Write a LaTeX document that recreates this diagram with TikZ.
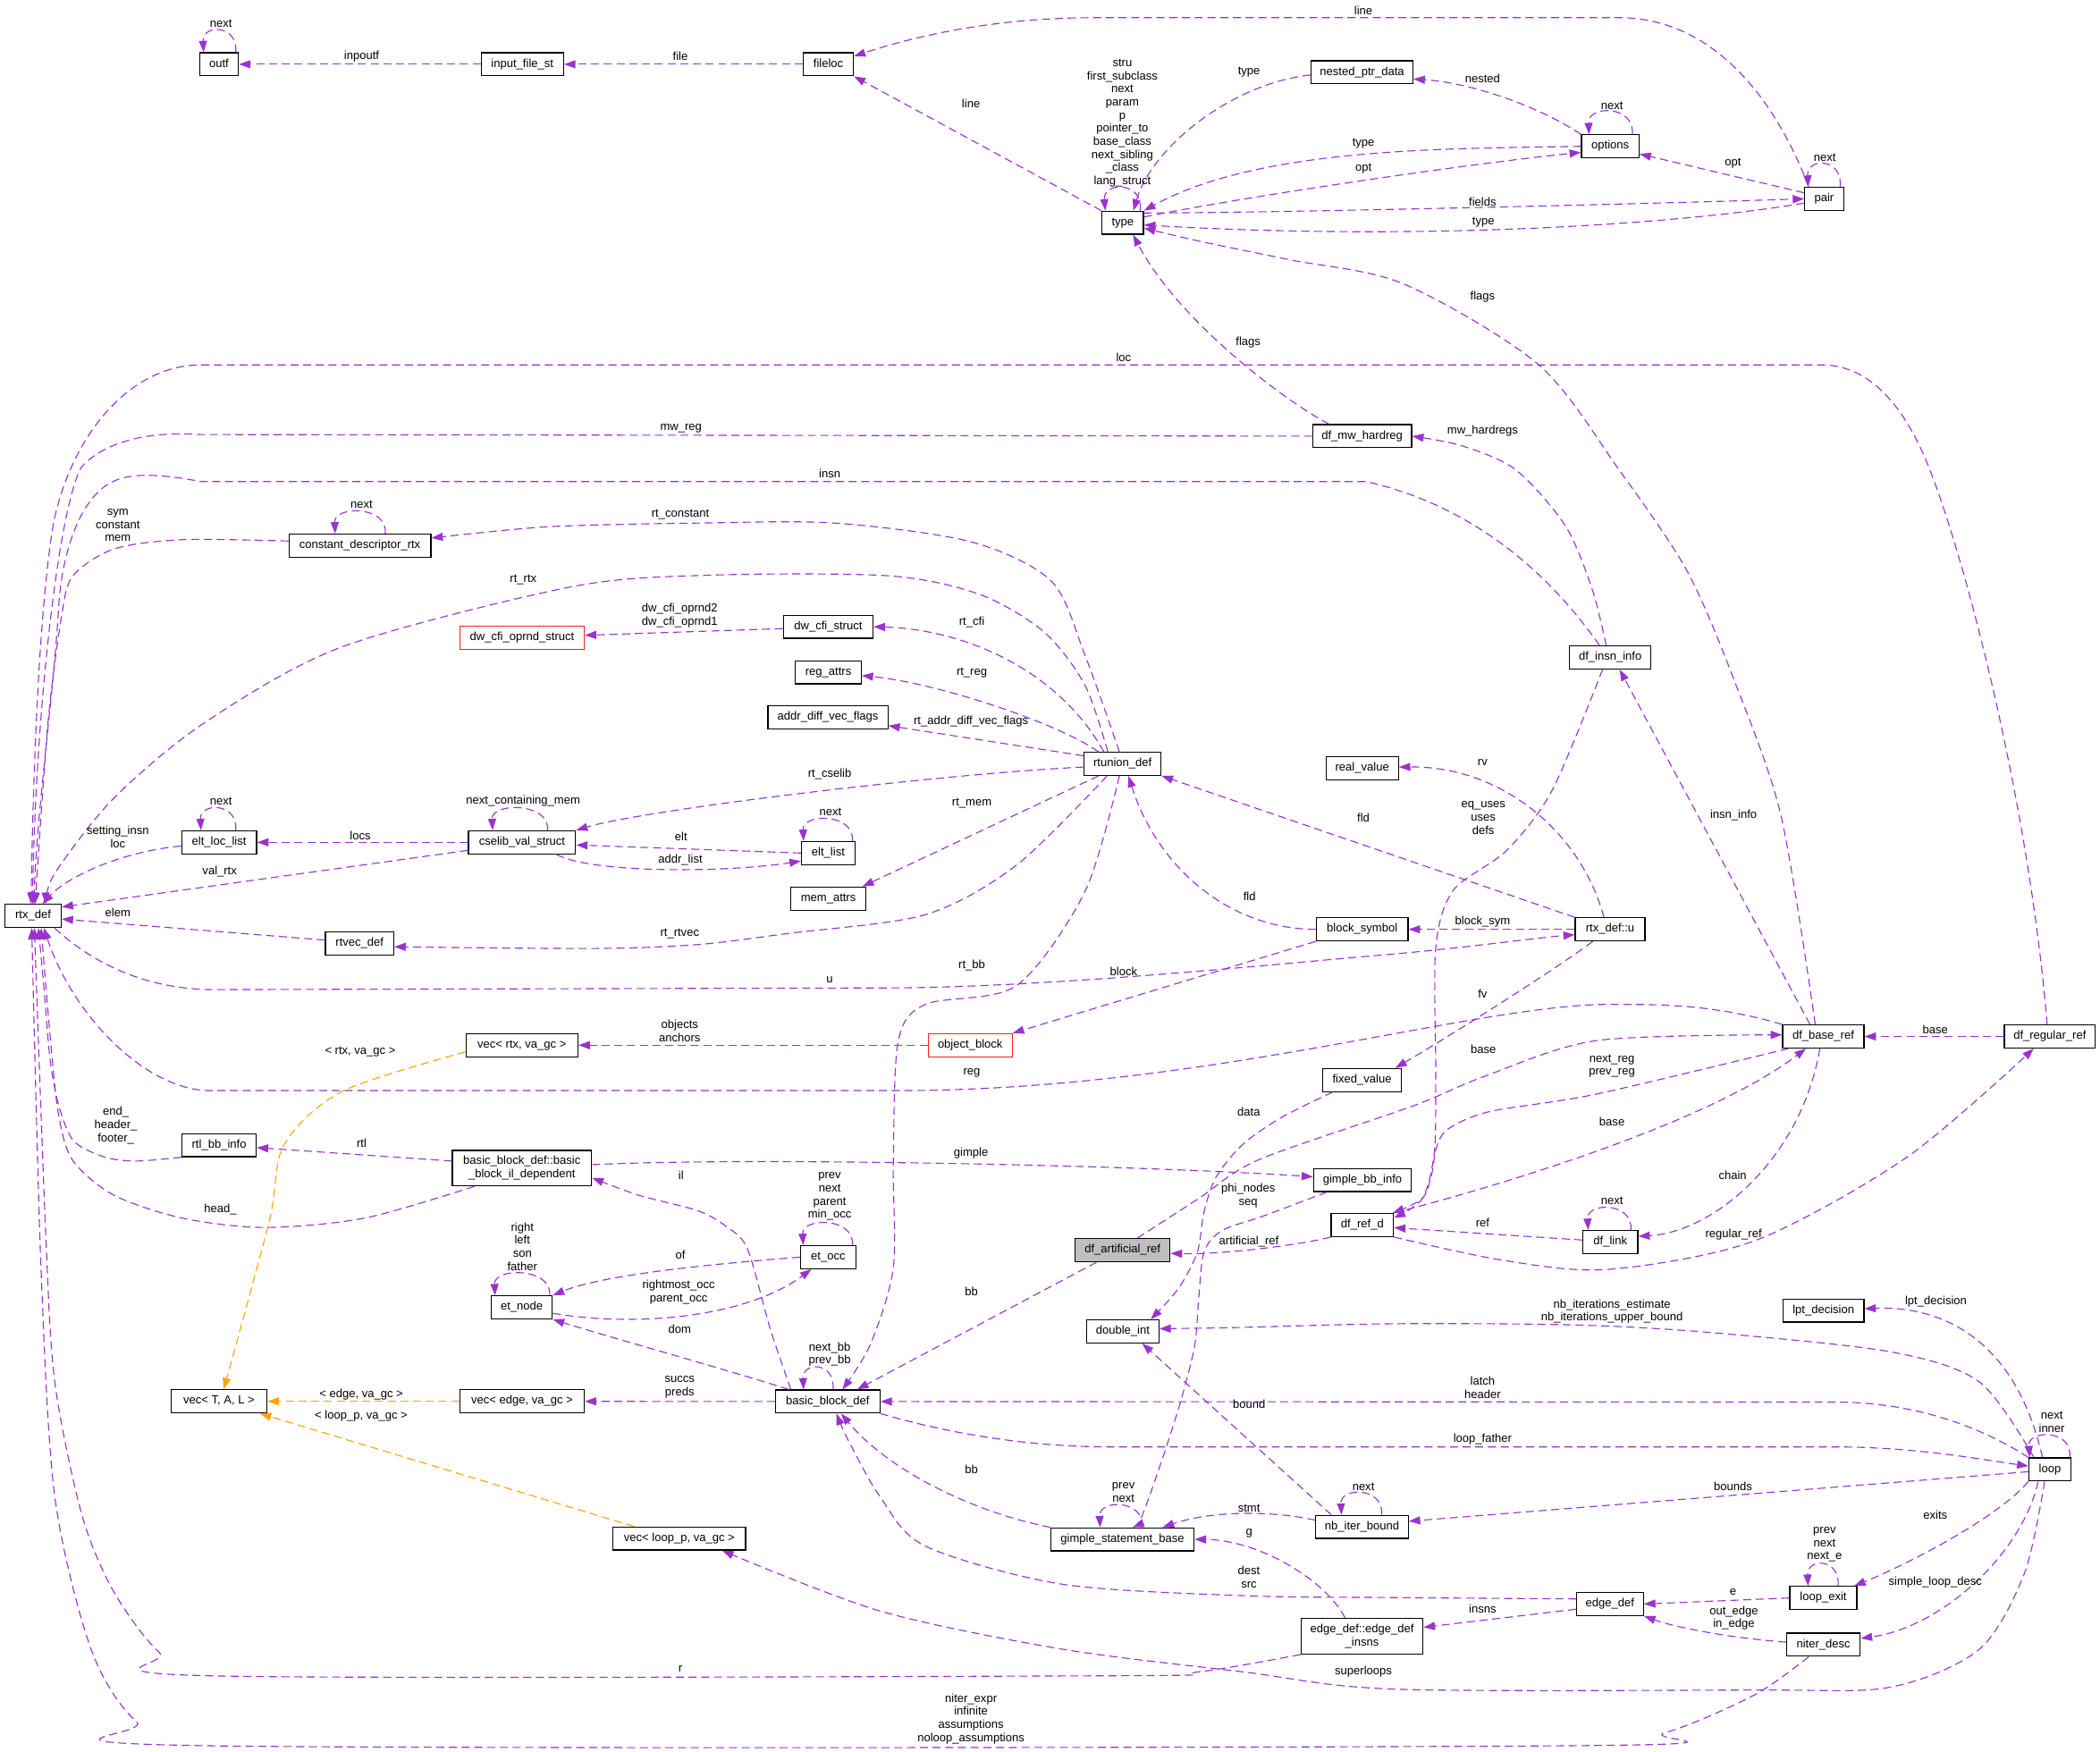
\documentclass[tikz,border=0pt]{standalone}
\usepackage{fontspec}
\setmainfont{Liberation Sans}
\usetikzlibrary{arrows.meta}
\definecolor{dxPurple}{RGB}{154,50,205}
\definecolor{dxOrange}{RGB}{255,165,0}
\definecolor{dxRed}{RGB}{255,30,30}
\definecolor{dxGrey}{RGB}{191,191,191}
\newcommand\dxfont{\fontsize{8.7pt}{9.8pt}\selectfont}

\begin{document}
\begin{tikzpicture}[
  x=1pt, y=-1pt,
  clsbox/.style={draw=black, line width=0.8pt, fill=white, font=\dxfont,
    inner xsep=1pt, inner ysep=0pt, minimum height=17.2pt, minimum width=#1},
  cls/.style={clsbox=#1, text height=6.3pt, text depth=2pt},
  cls2/.style={clsbox=#1, align=center, minimum height=26.5pt},
  lab/.style={font=\dxfont, inner sep=0pt, align=center},
  rel/.style={draw=dxPurple, line width=0.75pt, dash pattern=on 6pt off 3.5pt,
    -{Triangle[length=8.5pt, width=6pt]}},
  tmpl/.style={rel, draw=dxOrange},
]
\fill[white] (0,0) rectangle (1568,1308);
\useasboundingbox (0,0) rectangle (1568,1308);

% --- classes --------------------------------------------------------------
\node[cls=42pt]   (rtxdef)     at (24.7,684)     {rtx\_def};
\node[cls=29pt]   (outf)       at (163.5,48)     {outf};
\node[cls=61.6pt] (inputfile)  at (390,48)       {input\_file\_st};
\node[cls=37.5pt] (fileloc)    at (618.5,48)     {fileloc};
\node[cls=76pt]   (nestedptr)  at (1017,54)      {nested\_ptr\_data};
\node[cls=43pt]   (options)    at (1202.3,109.3) {options};
\node[cls=29pt]   (pair)       at (1362,148.5)   {pair};
\node[cls=31pt]   (type)       at (838.3,166.3)  {type};
\node[cls=74pt]   (mwhardreg)  at (1017,325.7)   {df\_mw\_hardreg};
\node[cls=106pt]  (constdesc)  at (268.7,407.4)  {constant\_descriptor\_rtx};
\node[cls=93pt, draw=dxRed] (cfioprnd) at (389.8,476.2) {dw\_cfi\_oprnd\_struct};
\node[cls=67pt]   (cfistruct)  at (618.4,468)    {dw\_cfi\_struct};
\node[cls=49pt]   (regattrs)   at (618.5,502)    {reg\_attrs};
\node[cls=89.5pt] (addrdiff)   at (618.2,535.5)  {addr\_diff\_vec\_flags};
\node[cls=61pt]   (insninfo)   at (1202.3,491)   {df\_insn\_info};
\node[cls=57.5pt] (rtunion)    at (838.2,570.4)  {rtunion\_def};
\node[cls=54pt]   (realvalue)  at (1017.1,573.8) {real\_value};
\node[cls=56pt]   (eltloclist) at (163.6,629)    {elt\_loc\_list};
\node[cls=80pt]   (cselib)     at (389.8,629)    {cselib\_val\_struct};
\node[cls=40pt]   (eltlist)    at (618.4,637)    {elt\_list};
\node[cls=56pt]   (memattrs)   at (618.5,671)    {mem\_attrs};
\node[cls=51pt]   (rtvec)      at (268.5,704.7)  {rtvec\_def};
\node[cls=68.5pt] (blocksym)   at (1017.1,694)   {block\_symbol};
\node[cls=52pt]   (rtxu)       at (1202.2,694)   {rtx\_def::u};
\node[cls=83.7pt] (vecrtx)     at (389.7,780.5)  {vec< rtx, va\_gc >};
\node[cls=62.7pt, draw=dxRed] (objblock) at (724.4,780.5) {object\_block};
\node[cls=60.7pt] (baseref)    at (1361.4,774)   {df\_base\_ref};
\node[cls=68pt]   (regularref) at (1530.5,774)   {df\_regular\_ref};
\node[cls=59pt]   (fixedvalue) at (1017,806.5)   {fixed\_value};
\node[cls=55.5pt] (rtlbb)      at (163.6,855.2)  {rtl\_bb\_info};
\node[cls2=104pt] (ildep)      at (389.7,872.3)  {basic\_block\_def::basic\\\_block\_il\_dependent};
\node[cls=73pt]   (gimplebb)   at (1017.3,881.2) {gimple\_bb\_info};
\node[cls=46.5pt] (refd)       at (1017.2,914.8) {df\_ref\_d};
\node[cls=41pt]   (dflink)     at (1202.4,927.5) {df\_link};
\node[cls=71pt, fill=dxGrey] (artref) at (838.2,933.6) {df\_artificial\_ref};
\node[cls=41.5pt] (etocc)      at (618.4,938.8)  {et\_occ};
\node[cls=45.6pt] (etnode)     at (389.6,976.3)  {et\_node};
\node[cls=54pt]   (doubleint)  at (838.3,994.2)  {double\_int};
\node[cls=60.4pt] (lptdec)     at (1361.5,978.7) {lpt\_decision};
\node[cls=71.6pt] (vecT)       at (163.5,1046.5) {vec< T, A, L >};
\node[cls=93pt]   (vecedge)    at (389.8,1046.5) {vec< edge, va\_gc >};
\node[cls=78pt]   (bbdef)      at (618,1046.6)   {basic\_block\_def};
\node[cls=31.3pt] (loop)       at (1530.6,1097.3) {loop};
\node[cls=69pt]   (nbiter)     at (1017,1140.2)  {nb\_iter\_bound};
\node[cls=107pt]  (gimplestmt) at (838.1,1149.5) {gimple\_statement\_base};
\node[cls=99pt]   (vecloop)    at (507.2,1148.9) {vec< loop\_p, va\_gc >};
\node[cls=50pt]   (loopexit)   at (1361.4,1193.3) {loop\_exit};
\node[cls=50pt]   (edgedef)    at (1202.1,1197.8) {edge\_def};
\node[cls2=91pt]  (edgeinsns)  at (1017,1221.9)  {edge\_def::edge\_def\\\_insns};
\node[cls=55pt]   (niterdesc)  at (1361.5,1228.2) {niter\_desc};

% --- top row: files, types, options ---------------------------------------
\draw[rel] ([xshift=12.5pt]outf.north) .. controls +(2,-21) and +(-1,-21) .. ([xshift=-11.5pt]outf.north);
\draw[rel] (inputfile.west) -- (outf.east);
\draw[rel] (fileloc.west) -- (inputfile.east);
\draw[rel] ([xshift=-11.5pt]pair.north) .. controls (1320,60) and (1270,13.2) .. (1209,13.2) -- (817,13.2) .. controls (740,13.2) and (680,28) .. ([yshift=6pt]fileloc.east);
\draw[rel] (type.north west) -- (fileloc.south east);
\draw[rel] ([xshift=13pt]type.north) .. controls +(3,-22) and +(-2,-22) .. ([xshift=-13pt]type.north);
\draw[rel] ([yshift=-2pt]nestedptr.west) .. controls (920,62) and (860,110) .. ([xshift=8pt]type.north);
\draw[rel] (options.north west) .. controls (1150,80) and (1100,62) .. ([yshift=-5pt]nestedptr.east);
\draw[rel] ([xshift=16.5pt]options.north) .. controls +(2,-22) and +(-1,-22) .. ([xshift=-15.8pt]options.north);
\draw[rel] (options.west) .. controls (1080,111) and (940,110) .. (type.north east);
\draw[rel] ([yshift=4.3pt]type.east) .. controls (940,145) and (1100,122) .. ([yshift=-4.5pt]options.west);
\draw[rel] ([yshift=4.5pt]pair.west) -- ([yshift=-5.7pt]options.east);
\draw[rel] ([xshift=12pt]pair.north) .. controls +(2,-22) and +(-1,-22) .. ([xshift=-12pt]pair.north);
\draw[rel] ([yshift=7.3pt]type.east) .. controls (950,159) and (1200,153) .. (pair.west);
\draw[rel] ([yshift=-3.2pt]pair.west) .. controls (1250,168) and (1060,180) .. ([yshift=-1.7pt]type.east);
\draw[rel] plot[smooth] coordinates {([xshift=-6pt]baseref.north) (1330,610) (1296,511) (1260,427) (1209,351) (1149,272.5) (1048,212) (963,194) (895,180) ([yshift=-4pt]type.east)};
\draw[rel] ([xshift=-24.6pt]mwhardreg.north) .. controls (960,300) and (880,240) .. ([xshift=7.7pt]type.south);

% --- long edges into rtx_def from above ------------------------------------
\draw[rel] ([xshift=-2pt]regularref.north) .. controls (1515,600) and (1468,420) .. (1441,351)
  .. controls (1425,310) and (1400,272.5) .. (1360,272.5) -- (150,272.5)
  .. controls (100,272.5) and (55,320) .. (40,390) .. controls (30,450) and (25,560) .. ([xshift=-1.5pt]rtxdef.north);
\draw[rel] (mwhardreg.west) -- (150,324.5) .. controls (115,322) and (80,328) .. (61,348.5)
  .. controls (45,375) and (27,520) .. ([xshift=-0.5pt]rtxdef.north);
\draw[rel] ([xshift=-8pt]insninfo.north) .. controls (1165,440) and (1110,380) .. (1020,359.6) -- (150,359.6)
  .. controls (120,354) and (95,352) .. (80,362) .. controls (60,375) and (47,410) .. (44,450)
  .. controls (40,520) and (28,600) .. ([xshift=0.5pt]rtxdef.north);
\draw[rel] plot[smooth] coordinates {([xshift=-3pt]insninfo.north) (1189,440.6) (1169,393) (1132,351) (1092,333) (mwhardreg.east)};
\draw[rel] ([xshift=19pt]constdesc.north) .. controls +(2,-21) and +(-1,-21) .. ([xshift=-18.4pt]constdesc.north);
\draw[rel] plot[smooth] coordinates {([yshift=3.4pt]constdesc.west) (136,403) (85,410) (54.5,430) (46,460) (35.8,540) ([xshift=1.5pt]rtxdef.north)};

% --- rtunion_def -----------------------------------------------------------
\draw[rel] plot[smooth] coordinates {([xshift=-2.4pt]rtunion.north) (810,489) (785,434) (725,404.6) (623,390.6) (520.7,390.6) (408.6,393.4) ([yshift=5.6pt]constdesc.east)};
\draw[rel] plot[smooth] coordinates {([xshift=-11pt]rtunion.north) (810,511.5) (779.6,472) (731.8,444) (663.8,430) (531,429.5) (426,438.3) (255.5,483) (153,539.5) (85,596) (41,652) ([xshift=9.5pt]rtxdef.north)};
\draw[rel] ([yshift=-1.4pt]cfistruct.west) -- ([yshift=1.8pt]cfioprnd.east);
\draw[rel] ([xshift=-14pt]rtunion.north) .. controls (790,500) and (720,470) .. (cfistruct.east);
\draw[rel] ([xshift=-18pt]rtunion.north) .. controls (790,540) and (700,510) .. ([yshift=-2.5pt]regattrs.east);
\draw[rel] ([yshift=6pt]rtunion.west) -- ([yshift=-6.4pt]addrdiff.east);
\draw[rel] ([yshift=-2.4pt]rtunion.west) .. controls (700,578) and (480,605) .. (cselib.north east);
\draw[rel] ([xshift=-18pt]rtunion.south) -- ([xshift=-3pt]memattrs.north east);
\draw[rel] plot[smooth] coordinates {([xshift=-11.6pt]rtunion.south) (759,646) (691,683) (588.8,697) (520.7,705.4) (442.8,708.3) ([yshift=-2.3pt]rtvec.east)};
\draw[rel] plot[smooth] coordinates {([xshift=-2.4pt]rtunion.south) (810,666) (759,736) (691,750) (670.6,778) (667,868) (667,946.6) (650,1003.6) ([xshift=11pt]bbdef.north)};

% --- cselib / elt lists ----------------------------------------------------
\draw[rel] ([xshift=19pt]cselib.north) .. controls +(2,-21) and +(-1,-21) .. ([xshift=-22pt]cselib.north);
\draw[rel] (cselib.west) -- (eltloclist.east);
\draw[rel] (eltlist.west) -- ([yshift=-2pt]cselib.east);
\draw[rel] ([xshift=25.7pt]cselib.south) .. controls (440,652) and (540,652) .. ([yshift=-6pt]eltlist.west);
\draw[rel] ([xshift=18pt]eltlist.north) .. controls +(2,-21) and +(-1,-21) .. ([xshift=-18.4pt]eltlist.north);
\draw[rel] ([xshift=12.4pt]eltloclist.north) .. controls +(2,-21) and +(-1,-21) .. ([xshift=-13.6pt]eltloclist.north);
\draw[rel] ([yshift=-2.8pt]eltloclist.west) .. controls (90,636) and (50,655) .. ([xshift=7pt]rtxdef.north);
\draw[rel] ([yshift=-6pt]cselib.west) -- ([yshift=6.7pt]rtxdef.east);
\draw[rel] ([yshift=2.7pt]rtvec.west) -- ([yshift=-2.3pt]rtxdef.east);

% --- rtx_def::u, symbols, blocks ---------------------------------------------
\draw[rel] ([xshift=16pt]rtxdef.south) .. controls (70,720) and (110,739) .. (160,739) -- (674,737.7)
  .. controls (800,736) and (950,720) .. (1041,712.4) .. controls (1100,707) and (1150,700) .. ([yshift=-4pt]rtxu.west);
\draw[rel] (rtxu.west) -- (blocksym.east);
\draw[rel] ([xshift=-4.6pt]rtxu.north) .. controls (1180,620) and (1120,572) .. ([yshift=1pt]realvalue.east);
\draw[rel] (rtxu.north west) -- (rtunion.south east);
\draw[rel] (blocksym.west) .. controls (920,694) and (865,650) .. ([xshift=4.3pt]rtunion.south);
\draw[rel] (blocksym.south west) -- (objblock.north east);
\draw[rel] (objblock.west) -- (vecrtx.east);
\draw[tmpl] plot[smooth] coordinates {([yshift=-5pt]vecrtx.west) (255.5,815) (212,855) (201,912) ([xshift=3.5pt]vecT.north)};
\draw[rel] ([xshift=-13pt]rtxu.south) .. controls (1160,725) and (1080,775) .. ([xshift=-5pt]fixedvalue.north east);

% --- df refs ---------------------------------------------------------------
\draw[rel] (baseref.north west) .. controls (1280,750) and (1240,750) .. (1202.6,750)
  .. controls (1100,750) and (900,814.4) .. (670.6,814.4) -- (156.7,814.4)
  .. controls (110,814.4) and (55,760) .. ([xshift=8pt]rtxdef.south);
\draw[rel] (regularref.west) -- (baseref.east);
\draw[rel] ([xshift=-10pt]baseref.north) -- ([xshift=7pt]insninfo.south);
\draw[rel] plot[smooth] coordinates {([xshift=-5.7pt]insninfo.south) (1159,590) (1125,635) (1085,665) (1072,708) (1072,800) (1071,860) (1062,895) ([yshift=5.5pt]refd.east)};
\draw[rel] plot[smooth] coordinates {([xshift=11pt]artref.north) (895,895) (940,866) (1054.7,826) (1108.6,803.7) (1192.5,777) ([yshift=1.2pt]baseref.west)};
\draw[rel] plot[smooth] coordinates {([xshift=-26pt]baseref.south) (1192,817) (1112.6,830) (1081.4,843) (1072.5,857) (1069,876.7) (1062,895) ([xshift=-1pt]refd.north east)};
\draw[rel] (refd.north east) .. controls (1140,880) and (1280,835) .. ([xshift=-13pt]baseref.south);
\draw[rel] ([xshift=-2.6pt]baseref.south) .. controls (1345,865) and (1280,920) .. ([yshift=4.3pt]dflink.east);
\draw[rel] ([xshift=15.3pt]dflink.north) .. controls +(2,-21) and +(-1,-21) .. ([xshift=-16.6pt]dflink.north);
\draw[rel] ([yshift=1.5pt]dflink.west) -- ([yshift=-2pt]refd.east);
\draw[rel] plot[smooth] coordinates {(refd.south east) (1121.5,941) (1200,948) (1310,926.6) (1424,864) ([xshift=-12pt]regularref.south)};
\draw[rel] (refd.south west) .. controls (970,930) and (910,937) .. ([yshift=-2.4pt]artref.east);
\draw[rel] ([xshift=-19.5pt]artref.south) -- ([xshift=22pt]bbdef.north);

% --- basic blocks ------------------------------------------------------------
\draw[rel] ([yshift=2.6pt]ildep.east) .. controls (560,864) and (850,870) .. ([yshift=2.4pt]gimplebb.west);
\draw[rel] ([yshift=5.3pt]ildep.west) -- ([yshift=-1.8pt]rtlbb.east);
\draw[rel] plot[smooth] coordinates {([xshift=-35.5pt]ildep.south) (272.4,909.6) (197.5,916.6) (136,909.6) (85,892.5) (54.5,866.8) (44,834) (38,780) ([xshift=6pt]rtxdef.south)};
\draw[rel] plot[smooth] coordinates {(rtlbb.south west) (102,867) (78,864) (55,852) (44,826) (37.5,792) (33,740) ([xshift=4pt]rtxdef.south)};
\draw[rel] plot[smooth] coordinates {([xshift=-22pt]fixedvalue.south) (956.8,834.5) (928,854.5) (908,879) (899,905) (894,935) (880,962) ([xshift=21pt]doubleint.north)};
\draw[rel] plot[smooth] coordinates {([xshift=-26.5pt]gimplebb.south) (943.5,908) (912.3,919) (899,935) (895,970) (892,1005) (881.7,1046) (868,1089) (852.8,1131.8) ([xshift=7.7pt]gimplestmt.north)};
\draw[rel] ([xshift=20.8pt]etnode.north) .. controls +(2,-21) and +(-1,-21) .. ([xshift=-20pt]etnode.north);
\draw[rel] ([xshift=18pt]etocc.north) .. controls +(2,-21) and +(-1,-21) .. ([xshift=-18.7pt]etocc.north);
\draw[rel] (etocc.west) .. controls (530,944) and (450,952) .. (etnode.north east);
\draw[rel] ([yshift=-4.4pt]etnode.east) .. controls (480,992) and (560,982) .. ([xshift=-12.6pt]etocc.south);
\draw[rel] plot[smooth] coordinates {([xshift=-27.5pt]bbdef.north) (575,992) (558,932.4) (541,915) (520.7,904) (476.8,892.5) ([yshift=-7.3pt]ildep.east)};
\draw[rel] ([xshift=-29pt]bbdef.north) .. controls (540,1022) and (460,1000) .. (etnode.south east);
\draw[rel] ([xshift=4pt]bbdef.north) .. controls +(2,-21) and +(-1,-21) .. ([xshift=-18pt]bbdef.north);
\draw[tmpl] (vecedge.west) -- (vecT.east);
\draw[rel] (bbdef.west) -- (vecedge.east);
\draw[tmpl] ([xshift=-33.8pt]vecloop.north) -- ([xshift=30.5pt]vecT.south);

% --- bottom: loops, edges, statements ----------------------------------------
\draw[rel] plot[smooth] coordinates {([xshift=-4pt]loop.south) (1511.7,1174.5) (1478,1231.5) (1411,1260) (1310,1262) (1041.4,1261.4) (929,1248.6) (793,1231.5) (657,1203) ([xshift=32pt]vecloop.south)};
\draw[rel] plot[smooth] coordinates {(edgeinsns.south west) (895,1248.5) (827,1251.4) (156.7,1251.4) (119,1234) (85,1188.7) (61.3,1131.8) (40.9,1032) (34,918) ([xshift=1pt]rtxdef.south)};
\draw[rel] plot[smooth] coordinates {([xshift=-11pt]niterdesc.south) (1310,1265.7) (1243,1294) (1175.6,1303.6) (153.3,1303.6) (102,1285.6) (68,1231.5) (40.9,1117.5) (30.6,946.6) ([xshift=-1pt]rtxdef.south)};
\draw[rel] plot[smooth] coordinates {([xshift=-12pt]loop.north) (1478,1032) (1411,1009.4) (1276.4,995) (1175.6,989.4) (1041.4,988.5) (921.2,991.4) ([yshift=2pt]doubleint.east)};
\draw[rel] ([xshift=-5.6pt]loop.north) .. controls (1505,1000) and (1450,975) .. ([yshift=1.4pt]lptdec.east);
\draw[rel] (loop.north west) .. controls (1470,1060) and (1420,1047) .. (1370,1047) -- (bbdef.east);
\draw[rel] (bbdef.south east) .. controls (700,1068) and (760,1080.5) .. (830,1080.5) -- (1370,1080.5) .. controls (1430,1080.5) and (1480,1090) .. ([yshift=2.5pt]loop.west);
\draw[rel] ([xshift=14.7pt]loop.north) .. controls +(3,-21) and +(-2,-21) .. ([xshift=-15pt]loop.north);
\draw[rel] ([yshift=-1.7pt]loop.west) -- ([yshift=4.2pt]nbiter.east);
\draw[rel] ([xshift=-23pt]nbiter.north) -- ([xshift=14.5pt]doubleint.south);
\draw[rel] ([xshift=14.6pt]nbiter.north) .. controls +(2,-21) and +(-1,-21) .. ([xshift=-15.4pt]nbiter.north);
\draw[rel] ([yshift=5pt]nbiter.west) .. controls (950,1128) and (905,1128) .. ([xshift=30pt]gimplestmt.north);
\draw[rel] ([xshift=14.7pt]gimplestmt.north) .. controls +(2,-21) and +(-1,-21) .. ([xshift=-16.7pt]gimplestmt.north);
\draw[rel] (gimplestmt.north west) .. controls (730,1130) and (665,1100) .. ([xshift=10pt]bbdef.south);
\draw[rel] plot[smooth] coordinates {([yshift=3.8pt]edgedef.west) (1041.4,1193) (929,1191.6) (793,1183) (691,1154.6) (657,1117.5) (633,1074.8) ([xshift=6.6pt]bbdef.south)};
\draw[rel] ([yshift=-3.9pt]edgedef.west) -- ([yshift=6.7pt]edgeinsns.east);
\draw[rel] ([xshift=-12.7pt]edgeinsns.north) .. controls (990,1180) and (940,1150) .. (gimplestmt.east);
\draw[rel] (loopexit.west) -- (edgedef.east);
\draw[rel] ([yshift=1.9pt]niterdesc.west) .. controls (1290,1223) and (1250,1215) .. (edgedef.south east);
\draw[rel] ([xshift=11pt]loopexit.north) .. controls +(2,-21) and +(-1,-21) .. ([xshift=-11.4pt]loopexit.north);
\draw[rel] (loop.south west) .. controls (1490,1135) and (1420,1170) .. ([xshift=-2.4pt]loopexit.north east);
\draw[rel] ([xshift=-8.8pt]loop.south) .. controls (1510,1160) and (1450,1215) .. ([yshift=4.7pt]niterdesc.east);

% --- edge labels -------------------------------------------------------------
\node[lab] (tOutfNext)   at (165,17.4)    {next};
\node[lab] (tInpoutf)    at (270,42)      {inpoutf};
\node[lab] (tFile)       at (508,42)      {file};
\node[lab] (tLinePair)   at (1018,7.6)    {line};
\node[lab] (tLineType)   at (725,77.5)    {line};
\node[lab] (tTypeSelf)   at (838,91.9)    {stru\\first\_subclass\\next\\param\\p\\pointer\_to\\base\_class\\next\_sibling\\\_class\\lang\_struct};
\node[lab] (tTypeNest)   at (932.6,54)    {type};
\node[lab] (tNested)     at (1107,58.4)   {nested};
\node[lab] (tOptNext)    at (1203.6,79)   {next};
\node[lab] (tTypeOpt)    at (1018,107)    {type};
\node[lab] (tOptType)    at (1018,126)    {opt};
\node[lab] (tOptPair)    at (1294,122)    {opt};
\node[lab] (tPairNext)   at (1362.5,118)  {next};
\node[lab] (tFields)     at (1107,151)    {fields};
\node[lab] (tTypePair)   at (1107.6,165.8) {type};
\node[lab] (tFlagsBase)  at (1107,221.4)  {flags};
\node[lab] (tFlagsMw)    at (932,256)     {flags};
\node[lab] (tLoc)        at (839,267)     {loc};
\node[lab] (tMwReg)      at (508.5,320)   {mw\_reg};
\node[lab] (tMwRegs)     at (1107,322)    {mw\_hardregs};
\node[lab] (tInsn)       at (619.5,354)   {insn};
\node[lab] (tConstNext)  at (270,376.8)   {next};
\node[lab] (tSym)        at (88,392.3)    {sym\\constant\\mem};
\node[lab] (tRtConst)    at (508,384)     {rt\_constant};
\node[lab] (tRtRtx)      at (390.7,433)   {rt\_rtx};
\node[lab] (tOprnd)      at (507.5,459.6) {dw\_cfi\_oprnd2\\dw\_cfi\_oprnd1};
\node[lab] (tRtCfi)      at (725.6,464.4) {rt\_cfi};
\node[lab] (tRtReg)      at (725.6,502.5) {rt\_reg};
\node[lab] (tRtAddr)     at (725,538.5)   {rt\_addr\_diff\_vec\_flags};
\node[lab] (tRtCselib)   at (619.5,578.4) {rt\_cselib};
\node[lab] (tNextMem)    at (390.6,598)   {next\_containing\_mem};
\node[lab] (tEllNext)    at (165,598)     {next};
\node[lab] (tEltNext)    at (620,606.5)   {next};
\node[lab] (tRtMem)      at (725.6,599.7) {rt\_mem};
\node[lab] (tSetting)    at (88,624.8)    {setting\_insn\\loc};
\node[lab] (tLocs)       at (269,624)     {locs};
\node[lab] (tElt)        at (508.5,625)   {elt};
\node[lab] (tAddrList)   at (508,642.5)   {addr\_list};
\node[lab] (tValRtx)     at (164,650.6)   {val\_rtx};
\node[lab] (tElem)       at (88,681.6)    {elem};
\node[lab] (tRtRtvec)    at (507.5,697.6) {rt\_rtvec};
\node[lab] (tFldU)       at (1018,610.4)  {fld};
\node[lab] (tFldSym)     at (933,669.4)   {fld};
\node[lab] (tRv)         at (1107,569.4)  {rv};
\node[lab] (tUses)       at (1107.5,610.8) {eq\_uses\\uses\\defs};
\node[lab] (tInsnInfo)   at (1294.4,609)  {insn\_info};
\node[lab] (tBlockSym)   at (1107,688.5)  {block\_sym};
\node[lab] (tU)          at (619.5,732)   {u};
\node[lab] (tRtBb)       at (725.6,721)   {rt\_bb};
\node[lab] (tBlock)      at (839,725.6)   {block};
\node[lab] (tFv)         at (1107,742)    {fv};
\node[lab] (tObjects)    at (507.5,770)   {objects\\anchors};
\node[lab] (tVecRtx)     at (269,785.5)   {< rtx, va\_gc >};
\node[lab] (tReg)        at (725.6,801.5) {reg};
\node[lab] (tBaseReg)    at (1445,768.6)  {base};
\node[lab] (tBaseArt)    at (1107.5,783.3) {base};
\node[lab] (tNextReg)    at (1203.6,796)  {next\_reg\\prev\_reg};
\node[lab] (tBaseRefd)   at (1203.6,837.7) {base};
\node[lab] (tData)       at (932.4,830.6) {data};
\node[lab] (tEnd)        at (86.5,840.5)  {end\_\\header\_\\footer\_};
\node[lab] (tRtl)        at (270,853.5)   {rtl};
\node[lab] (tGimple)     at (725,861)     {gimple};
\node[lab] (tIl)         at (508.5,877.4) {il};
\node[lab] (tPhi)        at (932,892.8)   {phi\_nodes\\seq};
\node[lab] (tChain)      at (1293.7,877.4) {chain};
\node[lab] (tLinkNext)   at (1203.6,897)  {next};
\node[lab] (tRef)        at (1107,913)    {ref};
\node[lab] (tArtRef)     at (932.5,927)   {artificial\_ref};
\node[lab] (tRegRef)     at (1294.4,922)  {regular\_ref};
\node[lab] (tHead)       at (164.5,903)   {head\_};
\node[lab] (tEtNode)     at (390,930.9)   {right\\left\\son\\father};
\node[lab] (tEtOcc)      at (619.5,893.6) {prev\\next\\parent\\min\_occ};
\node[lab] (tOf)         at (508,937)     {of};
\node[lab] (tRightmost)  at (506.7,965.2) {rightmost\_occ\\parent\_occ};
\node[lab] (tBbArt)      at (725.4,964.3) {bb};
\node[lab] (tDom)        at (507.5,992.5) {dom};
\node[lab] (tNextBb)     at (619.5,1011.4) {next\_bb\\prev\_bb};
\node[lab] (tNbIter)     at (1203.6,979.3) {nb\_iterations\_estimate\\nb\_iterations\_upper\_bound};
\node[lab] (tLpt)        at (1445.5,971.7) {lpt\_decision};
\node[lab] (tLatch)      at (1107,1036)   {latch\\header};
\node[lab] (tVecEdge)    at (269.7,1041.2) {< edge, va\_gc >};
\node[lab] (tSuccs)      at (507.5,1036)  {succs\\preds};
\node[lab] (tVecLoop)    at (269.7,1057.7) {< loop\_p, va\_gc >};
\node[lab] (tBound)      at (932.6,1048.3) {bound};
\node[lab] (tLoopFather) at (1107,1075)   {loop\_father};
\node[lab] (tLoopNext)   at (1532,1062)   {next\\inner};
\node[lab] (tBounds)     at (1294,1109.8) {bounds};
\node[lab] (tNbNext)     at (1018,1110)   {next};
\node[lab] (tStmt)       at (932.6,1126)  {stmt};
\node[lab] (tGimpleNext) at (838.8,1114.6) {prev\\next};
\node[lab] (tBbGimple)   at (725.4,1097)  {bb};
\node[lab] (tG)          at (932.6,1145)  {g};
\node[lab] (tDest)       at (932.5,1177.6) {dest\\src};
\node[lab] (tInsns)      at (1107,1201.3) {insns};
\node[lab] (tE)          at (1294,1189)   {e};
\node[lab] (tExitNext)   at (1362.3,1153.4) {prev\\next\\next\_e};
\node[lab] (tExits)      at (1445,1131.2) {exits};
\node[lab] (tOutEdge)    at (1294.6,1208.2) {out\_edge\\in\_edge};
\node[lab] (tSimple)     at (1445,1181.8) {simple\_loop\_desc};
\node[lab] (tSuper)      at (1018,1248.5) {superloops};
\node[lab] (tR)          at (508,1246.4)  {r};
\node[lab] (tNiter)      at (725,1283.6)  {niter\_expr\\infinite\\assumptions\\noloop\_assumptions};
\end{tikzpicture}
\end{document}
